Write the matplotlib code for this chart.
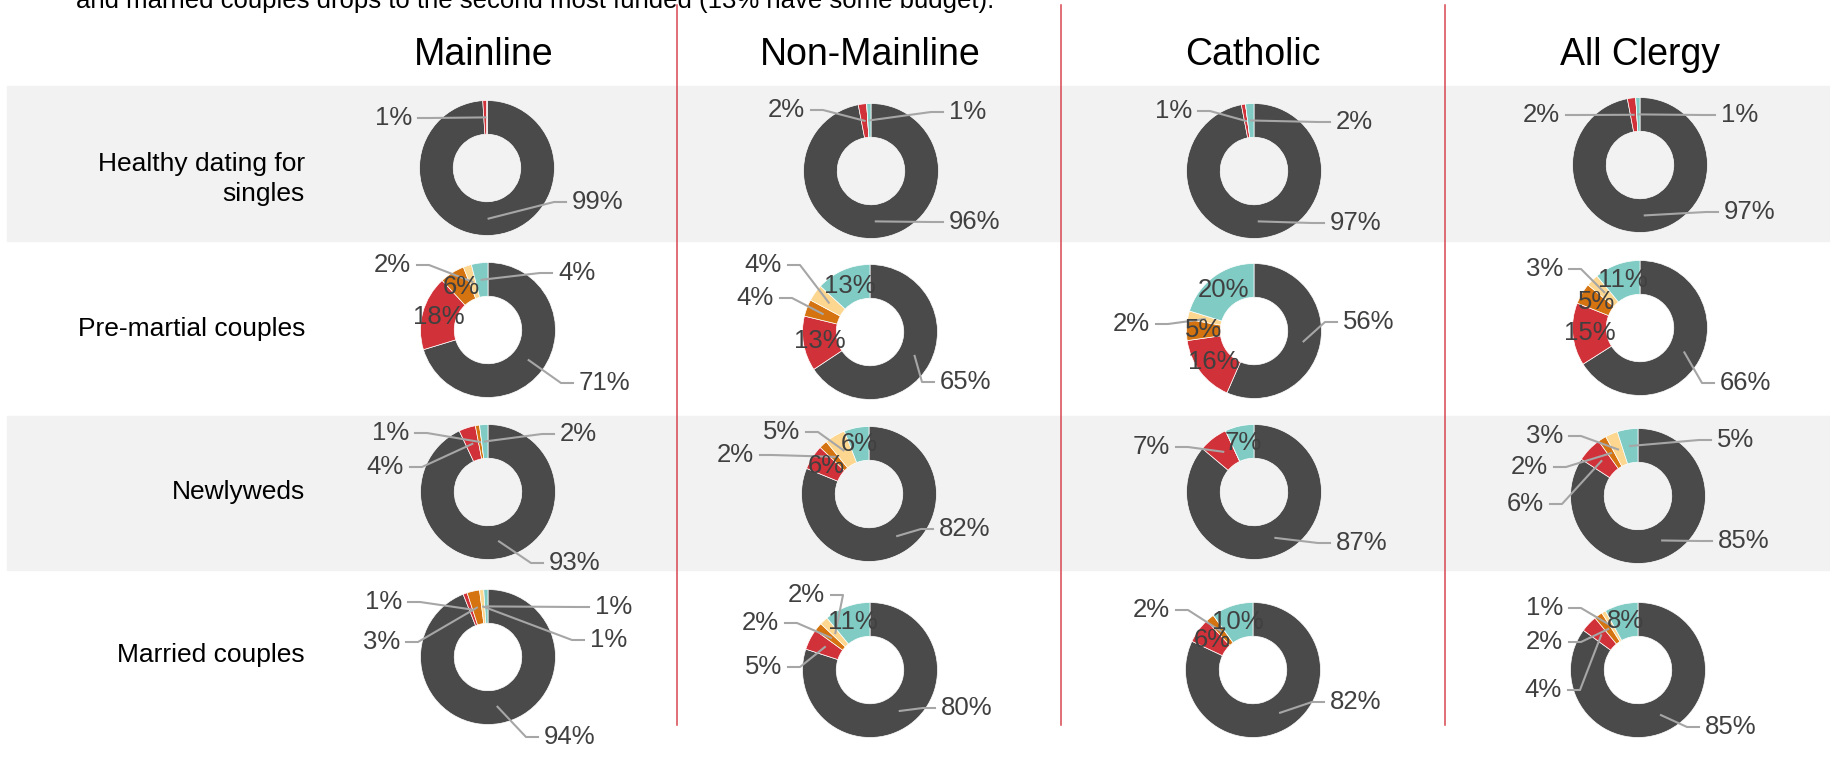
import numpy as np
import matplotlib.pyplot as plt
from matplotlib.patches import Rectangle

plt.rcParams['font.family'] = ['Liberation Sans', 'DejaVu Sans']

W, H = 1831, 757

groups = ['Mainline', 'Non-Mainline', 'Catholic', 'All Clergy']
programs = ['Healthy dating for\nsingles', 'Pre-martial couples', 'Newlyweds', 'Married couples']
intro = 'and married couples drops to the second most funded (13% have some budget).'

# slice order (clockwise from 12 o'clock): no budget, then four budget bands
slice_colors = ['#4a4a4a', '#d13138', '#d4730f', '#fdd68f', '#80cbc4']

# one list per group, one row per program
mainline = [[99, 1, 0, 0, 0], [71, 18, 6, 2, 4], [93, 4, 1, 0, 2], [94, 1, 3, 1, 1]]
non_mainline = [[96, 2, 0, 0, 1], [65, 13, 4, 4, 13], [82, 6, 2, 5, 6], [80, 5, 2, 2, 11]]
catholic = [[97, 1, 0, 0, 2], [56, 16, 5, 2, 20], [87, 7, 0, 0, 7], [82, 6, 2, 0, 10]]
all_clergy = [[97, 2, 0, 0, 1], [66, 15, 5, 3, 11], [85, 6, 2, 3, 5], [85, 4, 2, 1, 8]]
data = [mainline, non_mainline, catholic, all_clergy]

# layout (pixels from top-left)
col_x = [677, 1061, 1445]
title_x = [484, 870, 1253, 1640]
label_base_y = [201, 336, 499, 662]   # baseline of last line
bands = [(86, 241), (416, 570)]
centers = [[(487, 168), (871, 171), (1254, 171), (1640, 165)],
           [(488, 330), (870, 332), (1254, 331), (1640, 328)],
           [(488, 492), (869, 494), (1254, 492), (1638, 496)],
           [(488, 657), (870, 670), (1253, 670), (1638, 670)]]
R = 67.5

# outside label spots (offset from donut centre); other slices get labels on the ring
outside = {
    (0, 0): {1: (-75, -50), 0: (85, 34)},
    (0, 1): {1: (-66, -61), 4: (78, -59), 0: (78, 51)},
    (0, 2): {1: (-62, -60), 4: (82, -49), 0: (76, 52)},
    (0, 3): {1: (-80, -50), 4: (81, -50), 0: (84, 47)},
    (1, 0): {3: (-77, -65), 4: (70, -57), 0: (91, 53)},
    (1, 1): {3: (-88, -67), 2: (-96, -34), 0: (70, 50)},
    (1, 2): {3: (-104, -7), 0: (89, -9)},
    (1, 3): {3: (-77, -59), 0: (80, 55)},
    (2, 0): {2: (-79, -59), 1: (-84, -25), 4: (72, -58), 0: (61, 71)},
    (2, 1): {2: (-115, -39), 3: (-69, -62), 0: (70, 35)},
    (2, 2): {1: (-84, -45), 0: (82, 51)},
    (2, 3): {3: (-75, -60), 2: (-90, -29), 1: (-94, 8), 4: (79, -56), 0: (80, 45)},
    (3, 0): {1: (-86, -55), 2: (-88, -15), 4: (107, -50), 3: (102, -17), 0: (56, 80)},
    (3, 1): {3: (-45, -75), 2: (-91, -47), 1: (-88, -3), 0: (71, 38)},
    (3, 2): {2: (-83, -60), 0: (77, 32)},
    (3, 3): {3: (-75, -62), 2: (-75, -28), 1: (-76, 20), 0: (67, 57)},
}

txt_col = '#404040'
lead_col = '#a6a6a6'

fig = plt.figure(figsize=(W / 100, H / 100), dpi=100)
ax = fig.add_axes([0, 0, 1, 1])

for top, bot in bands:
    ax.add_patch(Rectangle((7, H - bot), W - 7, bot - top, color='#f2f2f2', zorder=0))

for x in col_x:
    ax.plot([x, x], [H - 5, H - 725], color='#d9474f', lw=1.1, zorder=1)

ax.text(76, H - 8, intro, fontsize=18.5, ha='left', va='baseline', color='black')

for j, g in enumerate(groups):
    ax.text(title_x[j], H - 65, g, fontsize=27, ha='center', va='baseline', color='black')

for i, p in enumerate(programs):
    ax.text(305, H - label_base_y[i], p, fontsize=19, ha='right', va='baseline',
            multialignment='right', linespacing=1.33, color='black')

for i in range(len(programs)):
    for j in range(len(groups)):
        vals = data[j][i]
        cx, cy = centers[i][j]
        wedges, _ = ax.pie(vals, colors=slice_colors, radius=R, center=(cx, H - cy),
                           startangle=90, counterclock=False, frame=True,
                           wedgeprops=dict(width=R * 0.5, edgecolor='white', linewidth=0.5))
        spots = outside.get((i, j), {})
        for k, (w, v) in enumerate(zip(wedges, vals)):
            if v == 0:
                continue
            mid = np.deg2rad((w.theta1 + w.theta2) / 2)
            axp = cx + 0.75 * R * np.cos(mid)
            ayp = H - cy + 0.75 * R * np.sin(mid)
            lab = f'{v}%'
            if k in spots:
                dx, dy = spots[k]
                tx, ty = cx + dx, H - (cy + dy)
                side = 1 if dx > 0 else -1
                ex = tx - side * 6
                sx = ex - side * 12
                ax.plot([axp, sx, ex], [ayp, ty, ty], color=lead_col, lw=1.5, zorder=3)
                ax.text(tx, ty, lab, fontsize=18.5, color=txt_col,
                        ha='left' if side > 0 else 'right', va='center', zorder=4)
            else:
                ax.text(axp, ayp, lab, fontsize=18.5, color=txt_col,
                        ha='center', va='center', zorder=4)

ax.set_xlim(0, W)
ax.set_ylim(0, H)
ax.set_aspect('auto')
ax.axis('off')

fig.savefig('out.png', dpi=100)
